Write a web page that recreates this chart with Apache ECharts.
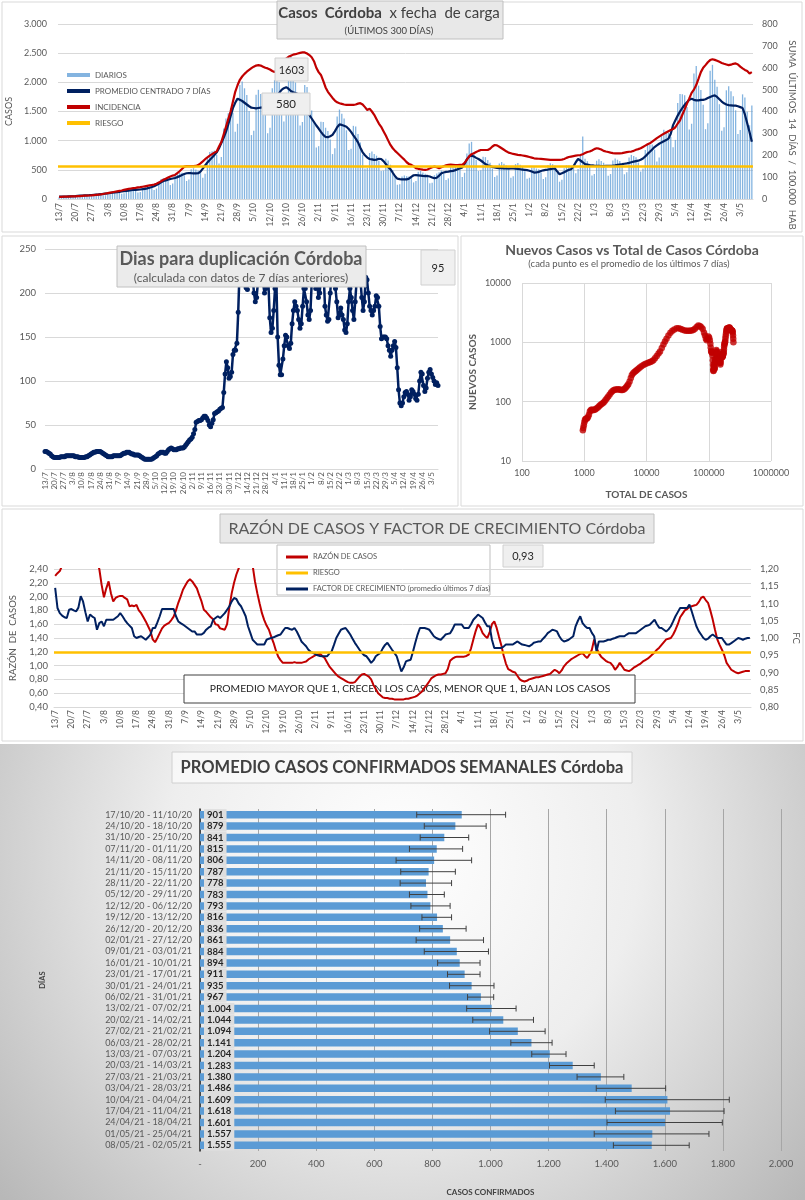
<!DOCTYPE html>
<html><head><meta charset="utf-8">
<script src="https://cdn.jsdelivr.net/npm/echarts@6/dist/echarts.min.js"></script>
<style>html,body{margin:0;padding:0;background:#fff}#c{width:805px;height:1200px}</style>
</head><body><div id="c"></div>
<script>
// ---------- DATA ----------
const startDate = [2020, 6, 13];
const nDays = 300;
const dates = [];
for (let i = 0; i < nDays; i++) { const t = new Date(Date.UTC(startDate[0], startDate[1], startDate[2] + i)); dates.push(t.getUTCDate() + '/' + (t.getUTCMonth() + 1)); }

const diarios = [
30,47,50,49,48,43,33, 38,62,68,69,68,61,46, 52,83,90,90,90,83,64, 73,118,130,130,130,117,90,
100,161,174,173,169,149,112, 122,193,209,209,211,195,154, 180,301,342,354,352,315,239,
264,414,450,451,451,407,309, 334,508,528,504,485,447,364, 431,721,804,817,830,760,609,
720,1208,1380,1472,1562,1479,1155, 1290,1955,2016,1898,1782,1510,1096, 1170,1788,1872,1800,1727,1510,1127,
1223,1898,2040,2250,2002,1777,1330, 1438,2350,2470,2105,1997,1710,1260, 1320,1955,1920,1656,1518,1311,882,
906,1323,1320,1222,1166,1021,770, 870,1415,1534,1461,1381,1178,840, 863,1254,1241,1116,968,760,525,
533,789,816,771,743,656,480, 488,690,660,588,495,371,244, 255,385,403,388,385,361,285,
308,466,480,454,431,375,270, 278,408,438,460,486,432,326, 353,550,578,569,561,499,378,
450,782,950,980,803,670,480, 495,725,718,667,622,523,378, 401,610,634,604,575,496,366,
392,598,618,587,556,475,347, 364,541,544,523,512,456,344, 375,581,614,596,575,447,297,
330,529,576,575,562,532,441, 515,759,1070,688,649,553,403, 429,656,682,651,622,539,398,
428,658,694,673,651,568,424, 459,713,756,736,715,624,470, 521,840,928,932,935,846,644,
710,1116,1188,1162,1137,1064,886, 1013,1645,1800,1794,1777,1577,1190, 1290,2150,2280,1944,1870,1615,1197,
1298,2200,2300,2044,1925,1625,1169, 1230,1863,1932,1846,1760,1520,1113, 1181,1794,1740,1495,1265,1603];

const promedio7 = [
40,41,42,43,44,45,47,50,54,57, 60,62,64,66,69,72,75,78,82,87, 92,97,103,108,113,118,123,128,134,140,
145,150,154,157,160,163,168,174,182,192, 205,220,240,262,285,308,320,332,342,352,
360,375,392,410,428,441,445,442,440,438, 441,470,520,575,627,670,710,755,800,870,
960,1050,1150,1280,1420,1557,1650,1720,1700,1680, 1650,1620,1590,1565,1560,1555,1560,1565,1570,1590,
1610,1630,1650,1700,1760,1820,1870,1900,1917,1890, 1850,1830,1815,1800,1800,1760,1700,1600,1440,1380,
1320,1260,1208,1150,1100,1063,1060,1075,1100,1160, 1230,1278,1270,1255,1240,1200,1150,1090,1034,970,
880,800,750,710,686,680,670,675,690,686, 650,600,550,511,450,390,349,340,335,336,
337,350,380,407,410,405,400,395,392,395, 385,370,355,365,400,442,455,465,470,478,
482,495,510,525,540,600,680,730,744,730, 705,686,660,630,598,580,565,550,540,535,
530,528,525,523,522,523,523,520,515,510, 505,500,495,485,470,453,455,465,480,492,
500,505,512,518,523,470,424,440,460,480, 500,511,560,630,686,660,630,598,590,582,
575,572,570,568,566,565,567,569,570,572, 578,585,592,598,605,612,620,630,640,650,
657,672,695,730,773,810,850,890,920,947, 970,990,1010,1034,1120,1266,1350,1430,1500,1560,
1615,1660,1700,1720,1700,1690,1690,1700,1700,1710, 1730,1750,1765,1777,1750,1710,1670,1640,1620,1610,
1605,1600,1600,1590,1575,1560,1450,1300,1150,980];

const incidencia = [
10,10,11,11,11,12,12,12,13,13, 14,15,15,16,17,18,19,20,21,23, 25,27,29,31,33,35,37,39,42,44,
46,48,50,51,53,54,56,58,60,62, 64,66,70,75,81,88,93,98,103,107, 110,118,127,137,148,150,150,150,150,151,
155,163,172,182,190,198,205,212,217,240, 260,295,330,365,400,445,490,520,545,560,
572,582,590,598,605,610,612,610,605,600, 597,592,585,580,590,605,620,632,642,650,
655,660,662,665,668,670,670,665,658,648, 630,600,580,567,540,510,490,476,462,450,
442,438,435,432,430,430,430,430,432,436, 438,432,420,407,413,400,385,365,345,330,
310,290,268,247,232,220,210,200,190,180, 168,160,156,150,141,138,136,134,133,135,
140,145,148,145,141,145,150,154,156,157, 156,155,155,156,156,165,180,195,205,209,
215,220,224,224,224,224,230,240,247,245, 239,232,225,218,212,209,206,204,202,201,
199,197,195,192,189,186,185,184,183,182, 181,180,179,179,179,179,179,180,183,188,
192,194,196,198,200,201,205,210,215,217, 222,228,232,230,226,220,217,215,212,210,
209,209,209,210,212,214,216,217,220,225, 228,232,238,244,250,255,262,270,278,285,
292,298,304,310,315,320,328,345,360,385, 410,436,460,485,500,521,550,580,600,612,
625,635,639,636,632,627,622,618,615,612, 614,618,620,615,605,597,590,585,574,580];
const riesgoIncidencia = 150;

const diasDuplicacion = [
20,20,19,18,17,15,14,13,13,13, 13,13,14,14,14,14,15,15,15,15, 15,15,15,14,14,14,13,13,13,13,
13,14,14,15,16,17,18,19,19,20, 20,20,20,19,18,17,16,15,14,14, 14,14,15,15,15,15,15,15,16,17,
18,18,19,19,19,18,17,17,16,16, 16,16,15,14,13,12,11,11,11,11, 11,11,12,13,14,15,17,18,19,19,
19,18,18,20,22,23,24,23,22,22, 22,23,23,24,24,24,25,27,29,31, 33,34,36,40,45,53,54,55,55,56,
58,60,60,58,55,50,48,52,56,63, 64,65,66,68,69,70,87,108,122,115, 103,105,110,130,135,135,143,178,225,240,
230,222,215,206,204,210,225,232,218,200, 190,195,212,228,235,220,210,200,205,226,
210,172,155,160,180,205,215,150,118,107, 107,125,140,152,150,140,137,143,165,180,
190,185,180,170,160,165,185,205,205,190, 175,170,180,215,228,235,205,215,195,200,
218,230,222,185,175,168,170,200,222,235, 228,205,190,172,175,183,175,170,158,155,
165,190,205,195,180,170,190,212,225,228, 214,195,180,190,218,215,200,185,180,175,
180,185,197,195,185,162,148,150,150,150, 148,140,135,128,135,140,145,138,115,90,
75,72,75,82,87,88,85,78,82,90, 88,85,80,78,85,100,110,108,95,88, 92,103,110,113,108,104,100,96,98,95];

// [total de casos, nuevos casos (promedio 7 días)]
const nuevosVsTotal = [
[950,33],[965,36],[985,40],[1005,45],[1025,49],[1050,51],[1080,52],[1110,52],[1150,55],[1190,60],[1230,68],[1270,72],[1320,74],[1380,72],[1440,73],[1500,74],[1570,77],[1650,80],[1730,84],[1810,88],[1900,91],[2000,95],[2100,100],[2200,107],[2310,114],[2430,122],[2560,132],[2700,143],[2850,152],[3000,157],[3170,160],[3350,161],[3530,162],[3720,160],[3900,158],[4100,157],[4300,160],[4500,166],[4700,175],[4900,185],[5100,196],[5350,218],[5600,250],[5820,282],[6100,300],[6400,316],[6700,330],[7000,342],[7400,358],[7800,375],[8300,395],[8900,415],[9500,430],[10200,445],[10900,458],[11500,465],[12200,478],[12900,500],[13700,540],[14600,590],[15600,650],[16500,700],[17600,800],[18700,920],[19800,1030],[21000,1150],[22500,1300],[24200,1450],[26000,1560],[28000,1650],[30500,1720],[33000,1720],[35500,1680],[38000,1630],[41000,1590],[44000,1560],[47000,1560],[50000,1570],[53000,1590],[56500,1620],[60000,1700],[64000,1820],[68000,1930],[72000,1880],[76000,1800],[80000,1680],[84000,1450],[87000,1300],[90000,1150],[93000,1080],[96000,1150],[99000,1250],[101500,1200],[104000,1080],[106000,950],[107500,820],[109000,720],[110500,690],[112000,680],[113500,670],[115000,600],[116200,500],[117200,420],[118000,350],[118800,330],[119600,335],[120400,370],[121300,405],[122200,400],[123100,395],[124000,360],[124800,370],[125700,440],[126600,470],[127600,485],[128600,510],[129700,540],[131000,640],[132400,740],[133600,710],[134700,680],[135800,630],[136900,590],[138000,560],[139200,540],[140500,530],[141800,525],[143200,522],[144500,515],[145800,500],[147000,470],[147900,455],[148900,480],[149900,500],[151000,515],[152100,523],[153000,450],[153600,425],[154500,460],[155500,505],[156500,590],[157600,680],[158800,630],[159900,598],[161100,580],[162300,570],[163400,567],[164600,568],[165800,571],[167000,582],[168300,598],[169700,615],[171100,635],[172500,655],[173900,690],[175300,760],[176700,850],[178300,920],[180000,960],[181800,1000],[183600,1034],[185300,1150],[187100,1266],[189000,1400],[191000,1520],[193200,1615],[195400,1690],[197800,1720],[200200,1700],[202600,1690],[205000,1700],[207400,1710],[209800,1740],[212300,1770],[214800,1777],[217300,1740],[219800,1690],[222200,1640],[224600,1620],[227000,1610],[229300,1600],[231700,1600],[234000,1590],[236300,1575],[238600,1560],[240600,1530],[243000,1450],[245500,1300],[247300,1150],[248800,1000]];

const razonCasos = [
2.30,2.34,2.37,2.45,2.6,2.7,2.8,2.9,3.0,3.0, 3.0,2.9,2.9,2.8,2.8,2.7,2.6,2.55,2.5,2.40,
2.17,1.99,2.12,2.22,2.05,1.93,1.98,2.00,2.01,2.01, 1.98,1.96,1.86,1.87,1.86,1.88,1.80,1.76,1.70,1.64,
1.57,1.50,1.38,1.34,1.40,1.47,1.54,1.58,1.60,1.62, 1.66,1.71,1.80,1.91,2.00,2.10,2.16,2.22,2.25,2.22,
2.17,2.12,2.02,1.93,1.81,1.78,1.74,1.70,1.67,1.60, 1.59,1.54,1.53,1.52,1.60,1.85,2.05,2.20,2.32,2.41,
2.5,2.6,2.7,2.7,2.6,2.45,2.22,2.05,1.90,1.76, 1.66,1.58,1.52,1.42,1.33,1.22,1.13,1.08,1.04,1.04,
1.04,1.04,1.04,1.05,1.04,1.04,1.04,1.05,1.06,1.09, 1.11,1.13,1.15,1.16,1.17,1.14,1.11,1.05,0.99,0.95,
0.91,0.87,0.84,0.82,0.80,0.78,0.76,0.75,0.75,0.76, 0.80,0.84,0.87,0.88,0.86,0.84,0.80,0.72,0.66,0.60,
0.57,0.54,0.53,0.53,0.52,0.52,0.51,0.51,0.51,0.51, 0.51,0.52,0.52,0.53,0.54,0.55,0.57,0.60,0.63,0.68,
0.72,0.77,0.82,0.84,0.86,0.87,0.87,0.88,0.89,0.95, 1.07,1.10,1.12,1.13,1.13,1.13,1.13,1.14,1.16,1.25,
1.38,1.50,1.60,1.55,1.47,1.43,1.40,1.48,1.60,1.64, 1.55,1.42,1.30,1.15,1.03,0.95,0.93,0.91,0.90,0.85,
0.80,0.78,0.77,0.78,0.80,0.81,0.82,0.83,0.83,0.84, 0.85,0.86,0.87,0.88,0.91,0.94,0.92,0.89,0.93,0.99,
1.03,1.06,1.09,1.11,1.13,1.15,1.17,1.18,1.14,1.11, 1.16,1.23,1.38,1.26,1.18,1.13,1.10,1.07,1.05,1.04,
1.00,0.94,0.98,1.04,0.99,0.94,0.93,0.92,0.94,0.97, 0.99,1.01,1.03,1.06,1.08,1.10,1.13,1.16,1.19,1.23,
1.26,1.30,1.34,1.38,1.39,1.40,1.45,1.52,1.60,1.70, 1.75,1.80,1.82,1.85,1.86,1.87,1.88,1.92,1.98,2.00,
1.95,1.91,1.80,1.67,1.52,1.38,1.30,1.23,1.15,1.04, 0.99,0.94,0.92,0.90,0.89,0.90,0.91,0.92,0.92,0.92];
const riesgoRazon = 1.2;

const factorCrecimiento = [
1.145,1.087,1.072,1.065,1.060,1.058,1.082,1.084,1.080,1.077, 1.088,1.121,1.106,1.075,1.048,1.068,1.062,1.058,1.024,1.043,
1.048,1.034,1.053,1.053,1.053,1.053,1.058,1.063,1.072,1.063, 1.052,1.043,1.036,1.029,1.005,1.000,1.003,1.005,1.000,0.995,
1.002,1.010,1.029,1.029,1.045,1.063,1.084,1.084,1.084,1.084, 1.084,1.084,1.063,1.048,1.043,1.039,1.034,1.029,1.024,1.019,
1.019,1.010,1.010,1.010,1.015,1.024,1.030,1.034,1.053,1.058, 1.063,1.058,1.065,1.072,1.082,1.092,1.106,1.116,1.113,1.100,
1.092,1.078,1.063,1.034,1.015,0.995,0.988,0.981,0.981,0.981, 0.981,0.995,0.998,1.000,1.002,1.005,1.008,1.010,1.020,1.029,
1.029,1.026,1.024,1.029,1.019,1.005,0.990,0.983,0.976,0.966, 0.960,0.957,0.953,0.950,0.948,0.947,0.947,0.947,0.955,0.961,
0.980,1.000,1.012,1.024,1.027,1.029,1.020,1.010,0.998,0.986, 0.976,0.966,0.957,0.950,0.947,0.938,0.928,0.935,0.947,0.952,
0.957,0.970,0.980,0.986,0.976,0.966,0.957,0.947,0.925,0.903, 0.915,0.932,0.935,0.937,0.960,0.986,1.010,1.029,1.029,1.029,
1.027,1.024,1.015,1.005,1.000,0.997,0.995,1.002,1.010,1.012, 1.014,1.025,1.039,1.039,1.039,1.039,1.029,1.029,1.029,1.040,
1.053,1.060,1.068,1.063,1.058,1.045,1.034,1.034,0.995,0.971, 0.971,0.971,0.971,0.975,0.981,0.981,0.981,0.981,0.986,0.990,
0.985,0.981,0.980,0.978,0.976,0.980,0.986,0.988,0.990,0.990, 0.998,1.005,1.014,1.019,1.024,1.022,1.019,1.005,0.995,0.990,
0.992,0.995,1.000,1.005,1.034,1.050,1.063,1.043,1.035,1.029, 1.029,1.015,1.005,0.961,0.990,0.990,0.990,0.992,0.995,0.995,
0.998,1.000,1.003,1.005,1.005,1.005,1.010,1.014,1.014,1.014, 1.014,1.019,1.024,1.029,1.034,1.036,1.039,1.046,1.053,1.040,
1.030,1.029,1.024,1.019,1.025,1.034,1.048,1.063,1.075,1.087, 1.087,1.087,1.087,1.097,1.077,1.055,1.034,1.020,1.010,1.000,
0.995,0.998,1.005,1.010,1.005,1.000,1.000,1.000,0.990,0.981, 0.981,0.985,0.990,0.995,1.000,0.998,0.995,0.998,1.000,1.000];

const semanas = ['17/10/20 - 11/10/20','24/10/20 - 18/10/20','31/10/20 - 25/10/20','07/11/20 - 01/11/20','14/11/20 - 08/11/20','21/11/20 - 15/11/20','28/11/20 - 22/11/20','05/12/20 - 29/11/20','12/12/20 - 06/12/20','19/12/20 - 13/12/20','26/12/20 - 20/12/20','02/01/21 - 27/12/20','09/01/21 - 03/01/21','16/01/21 - 10/01/21','23/01/21 - 17/01/21','30/01/21 - 24/01/21','06/02/21 - 31/01/21','13/02/21 - 07/02/21','20/02/21 - 14/02/21','27/02/21 - 21/02/21','06/03/21 - 28/02/21','13/03/21 - 07/03/21','20/03/21 - 14/03/21','27/03/21 - 21/03/21','03/04/21 - 28/03/21','10/04/21 - 04/04/21','17/04/21 - 11/04/21','24/04/21 - 18/04/21','01/05/21 - 25/04/21','08/05/21 - 02/05/21'];
const promedioSemanal = [901,879,841,815,806,787,778,783,793,816,836,861,884,894,911,935,967,1004,1044,1094,1141,1204,1283,1380,1486,1609,1618,1601,1557,1555];
const errorMin = [746,772,758,721,675,691,689,721,726,764,756,744,772,818,852,859,921,918,939,997,1070,1142,1203,1298,1364,1395,1430,1401,1357,1423];
const errorMax = [1052,985,925,904,935,879,866,841,861,866,916,976,993,964,964,1012,1011,1088,1148,1188,1212,1260,1357,1459,1603,1822,1804,1798,1752,1684];

const ultimoDiario = '1603', ultimaIncidencia = '580', ultimoDuplicacion = '95', ultimoFC = '0,93';

// ---------- CHART ----------
const F = 'Lato, "Open Sans", sans-serif';
const G = '#595959';
const NAVY = '#002060', RED = '#C00000', ORANGE = '#FFC000', BLUE = '#5B9BD5';
function thou(v){ return String(Math.round(v)).replace(/\B(?=(\d{3})+(?!\d))/g, '.'); }
function c2(v){ return v.toFixed(2).replace('.', ','); }

function dateAxis(grid, gap, fs, margin){
  return {type:'category', gridIndex:grid, data:dates, boundaryGap:gap,
    axisTick:{show:false}, axisLine:{show:true, lineStyle:{color:'#d9d9d9'}},
    axisLabel:{interval:6, rotate:90, fontSize:fs, color:G, fontFamily:F, margin:margin},
    splitLine:{show:false}};
}
function rect(x,y,w,h,fill,stroke,z,lw){ return {type:'rect', silent:true, z:z, shape:{x:x,y:y,width:w,height:h}, style:{fill:fill, stroke:stroke, lineWidth:lw||1}}; }
function txt(x,y,t,fs,fw,col,z,align){ return {type:'text', silent:true, z:z, x:x, y:y, style:{text:t, fontSize:fs, fontWeight:fw||'normal', fontFamily:F, fill:col, textAlign:align||'center', textVerticalAlign:'middle', verticalAlign:'middle'}}; }

const chart = echarts.init(document.getElementById('c'), null, {renderer:'canvas'});
const option = {
  animation:false,
  backgroundColor:'#ffffff',
  textStyle:{fontFamily:F},
  grid:[
    {left:58, right:52, top:24, bottom:1001, outerBoundsMode:'none'},
    {left:45, right:367, top:249, bottom:731, outerBoundsMode:'none'},
    {left:522, right:34, top:283, bottom:739, outerBoundsMode:'none'},
    {left:54, right:54, top:569, bottom:493, outerBoundsMode:'none'},
    {left:200, right:24, top:809, bottom:49, outerBoundsMode:'none'}
  ],
  xAxis:[
    dateAxis(0, true, 8.5, 4),
    dateAxis(1, false, 8, 3),
    {type:'log', logBase:10, gridIndex:2, min:100, max:1000000,
      axisLine:{show:false}, axisTick:{show:false}, splitLine:{show:true, lineStyle:{color:'#d9d9d9'}},
      axisLabel:{formatter:v=>String(Math.round(v)), fontSize:9, color:G, fontFamily:F, margin:8},
      name:'TOTAL DE CASOS', nameLocation:'middle', nameGap:29,
      nameTextStyle:{fontSize:10, fontWeight:'bold', color:G, fontFamily:F}},
    dateAxis(3, true, 8.5, 3),
    {type:'value', gridIndex:4, min:0, max:2000, interval:200,
      axisLine:{show:false}, axisTick:{show:false}, splitLine:{show:true, lineStyle:{color:'#a6a6a6'}},
      axisLabel:{formatter:v=>v===0?'-':thou(v), fontSize:9.5, color:G, fontFamily:F, margin:8},
      name:'CASOS CONFIRMADOS', nameLocation:'middle', nameGap:37,
      nameTextStyle:{fontSize:8, fontWeight:'bold', color:'#404040', fontFamily:F}}
  ],
  yAxis:[
    {type:'value', gridIndex:0, min:0, max:3000, interval:500, position:'left',
      axisLine:{show:false}, axisTick:{show:false}, splitLine:{lineStyle:{color:'#d9d9d9'}},
      axisLabel:{formatter:thou, fontSize:9, color:G, fontFamily:F, margin:11},
      name:'CASOS', nameLocation:'middle', nameGap:41, nameRotate:90,
      nameTextStyle:{fontSize:9, color:G, fontFamily:F}},
    {type:'value', gridIndex:0, min:0, max:800, interval:100, position:'right',
      axisLine:{show:false}, axisTick:{show:false}, splitLine:{show:false},
      axisLabel:{fontSize:9, color:G, fontFamily:F, margin:9}},
    {type:'value', gridIndex:1, min:0, max:250, interval:50,
      axisLine:{show:false}, axisTick:{show:false}, splitLine:{lineStyle:{color:'#d9d9d9'}},
      axisLabel:{fontSize:9.5, color:G, fontFamily:F, margin:9}},
    {type:'log', logBase:10, gridIndex:2, min:10, max:10000,
      axisLine:{show:false}, axisTick:{show:false}, splitLine:{show:true, lineStyle:{color:'#d9d9d9'}},
      axisLabel:{formatter:v=>String(Math.round(v)), fontSize:9, color:G, fontFamily:F, margin:11},
      name:'NUEVOS CASOS', nameLocation:'middle', nameGap:44, nameRotate:90,
      nameTextStyle:{fontSize:10, fontWeight:'bold', color:G, fontFamily:F}},
    {type:'value', gridIndex:3, min:0.4, max:2.4, interval:0.2, position:'left',
      axisLine:{show:false}, axisTick:{show:false}, splitLine:{lineStyle:{color:'#d9d9d9'}},
      axisLabel:{formatter:c2, fontSize:9.5, color:G, fontFamily:F, margin:6},
      name:'RAZÓN  DE  CASOS', nameLocation:'middle', nameGap:36, nameRotate:90,
      nameTextStyle:{fontSize:9.5, color:G, fontFamily:F}},
    {type:'value', gridIndex:3, min:0.8, max:1.2, interval:0.05, position:'right',
      axisLine:{show:false}, axisTick:{show:false}, splitLine:{show:false},
      axisLabel:{formatter:c2, fontSize:9.5, color:G, fontFamily:F, margin:9},
      name:'FC', nameLocation:'middle', nameGap:40, nameRotate:-90,
      nameTextStyle:{fontSize:9.5, color:G, fontFamily:F}},
    {type:'category', gridIndex:4, data:semanas, inverse:true,
      axisLine:{show:true, lineStyle:{color:'#262626', width:1.5}}, axisTick:{show:false},
      axisLabel:{interval:0, fontSize:9, color:G, fontFamily:F, margin:8},
      name:'DÍAS', nameLocation:'middle', nameGap:153, nameRotate:90,
      nameTextStyle:{fontSize:7.5, fontWeight:'bold', color:'#404040', fontFamily:F}}
  ],
  legend:[
    {left:62, top:66, orient:'vertical', itemGap:8, itemWidth:23, itemHeight:4, selectedMode:false,
      textStyle:{fontSize:8, color:G, fontFamily:F},
      data:[{name:'DIARIOS',icon:'rect'},{name:'PROMEDIO CENTRADO 7 DÍAS',icon:'rect'},{name:'INCIDENCIA',icon:'rect'},{name:'RIESGO',icon:'rect'}]},
    {left:281, top:548, orient:'vertical', itemGap:8, itemWidth:22, itemHeight:3, selectedMode:false,
      textStyle:{fontSize:7.5, color:G, fontFamily:F},
      data:[{name:'RAZÓN DE CASOS',icon:'rect'},{name:'RIESGO ',icon:'rect'},{name:'FACTOR DE CRECIMIENTO (promedio últimos 7 días)',icon:'rect'}]}
  ],
  series:[
    {name:'DIARIOS', type:'bar', xAxisIndex:0, yAxisIndex:0, data:diarios, barWidth:1.3,
      itemStyle:{color:BLUE, opacity:0.75}, z:1},
    {name:'PROMEDIO CENTRADO 7 DÍAS', type:'line', xAxisIndex:0, yAxisIndex:0, data:promedio7, symbol:'none',
      lineStyle:{color:NAVY, width:2.2}, itemStyle:{color:NAVY}, z:3},
    {name:'INCIDENCIA', type:'line', xAxisIndex:0, yAxisIndex:1, data:incidencia, symbol:'none',
      lineStyle:{color:RED, width:2.2}, itemStyle:{color:RED}, z:3},
    {name:'RIESGO', type:'line', xAxisIndex:0, yAxisIndex:1, data:[], symbol:'none', itemStyle:{color:ORANGE}, lineStyle:{color:ORANGE},
      markLine:{silent:true, symbol:'none', label:{show:false}, lineStyle:{color:ORANGE, width:2.5, type:'solid'}, data:[{yAxis:riesgoIncidencia}]}, z:4},

    {name:'Dias para duplicación', type:'line', xAxisIndex:1, yAxisIndex:2, data:diasDuplicacion,
      symbol:'circle', symbolSize:5, showAllSymbol:true, lineStyle:{color:NAVY, width:2.5}, itemStyle:{color:NAVY}, z:3},

    {name:'Nuevos vs Total', type:'scatter', xAxisIndex:2, yAxisIndex:3, data:nuevosVsTotal,
      symbolSize:6.5, itemStyle:{color:RED}, z:3},

    {name:'RAZÓN DE CASOS', type:'line', xAxisIndex:3, yAxisIndex:4, data:razonCasos, symbol:'none',
      lineStyle:{color:RED, width:2}, itemStyle:{color:RED}, z:4},
    {name:'RIESGO ', type:'line', xAxisIndex:3, yAxisIndex:4, data:[], symbol:'none', itemStyle:{color:ORANGE}, lineStyle:{color:ORANGE},
      markLine:{silent:true, symbol:'none', label:{show:false}, lineStyle:{color:ORANGE, width:2.5, type:'solid'}, data:[{yAxis:riesgoRazon}]}, z:3},
    {name:'FACTOR DE CRECIMIENTO (promedio últimos 7 días)', type:'line', xAxisIndex:3, yAxisIndex:5, data:factorCrecimiento, symbol:'none',
      lineStyle:{color:NAVY, width:2}, itemStyle:{color:NAVY}, z:4},

    {name:'Promedio semanal', type:'bar', xAxisIndex:4, yAxisIndex:6, data:promedioSemanal, barWidth:7.5,
      itemStyle:{color:BLUE}, z:2,
      label:{show:true, position:'insideLeft', distance:4, formatter:p=>thou(p.value), fontSize:9.5, fontWeight:'bold',
        color:'#262626', fontFamily:F, backgroundColor:'#dedede', padding:[1,3,0,3]}},
    {name:'Error', type:'custom', xAxisIndex:4, yAxisIndex:6, z:3,
      data:errorMin.map((lo,i)=>[lo, errorMax[i], i]), encode:{x:[0,1], y:2},
      renderItem:function(params, api){
        const a = api.coord([api.value(0), api.value(2)]);
        const b = api.coord([api.value(1), api.value(2)]);
        const s = {stroke:'#404040', lineWidth:1};
        return {type:'group', children:[
          {type:'line', shape:{x1:a[0], y1:a[1], x2:b[0], y2:b[1]}, style:s},
          {type:'line', shape:{x1:a[0], y1:a[1]-3, x2:a[0], y2:a[1]+3}, style:s},
          {type:'line', shape:{x1:b[0], y1:b[1]-3, x2:b[0], y2:b[1]+3}, style:s}
        ]};
      }}
  ],
  graphic:[
    // panel frames
    rect(2,2,800,230,'none','#d9d9d9',-1),
    rect(2,236,456,270,'none','#d9d9d9',-1),
    rect(461,236,342,270,'none','#d9d9d9',-1),
    rect(2,509,801,232,'none','#d9d9d9',-1),
    {type:'rect', silent:true, z:-2, shape:{x:0,y:744,width:805,height:456},
      style:{fill:{type:'radial', x:0.5, y:0.25, r:1.15, colorStops:[{offset:0,color:'#ffffff'},{offset:0.45,color:'#eeeeee'},{offset:1,color:'#b8b8b8'}]}}},

    // top chart title
    rect(277,1,226,38,'#e8e8e8','#c0c0c0',10),
    {type:'text', silent:true, z:11, x:389, y:13, style:{text:'{b|Casos  Córdoba}{n|  x fecha  de carga}', textAlign:'center', textVerticalAlign:'middle', verticalAlign:'middle',
      rich:{b:{fontSize:15, fontWeight:'bold', fill:'#404040', color:'#404040', fontFamily:F}, n:{fontSize:15, fill:'#404040', color:'#404040', fontFamily:F}}}},
    txt(389,31,'(ÚLTIMOS 300 DÍAS)',9.5,'normal','#404040',11),
    rect(275,58,33,23,'#efefef','#d0d0d0',10),
    txt(291.5,70,ultimoDiario,11,'normal','#262626',11),
    rect(262,93,48,22,'#efefef','#d0d0d0',10),
    txt(286,104.5,ultimaIncidencia,11.5,'normal','#262626',11),
    {type:'text', silent:true, z:11, x:792, y:135, rotation:-Math.PI/2,
      style:{text:'SUMA  ÚLTIMOS  14  DÍAS  /  100.000  HAB', fontSize:9.5, fontFamily:F, fill:G, textAlign:'center', textVerticalAlign:'middle', verticalAlign:'middle'}},

    // doubling chart
    rect(117,246,249,41,'#ebebeb','#c0c0c0',10),
    txt(241,259,'Dias para duplicación Córdoba',18,'bold','#595959',11),
    txt(241,278,'(calculada con datos de 7 días anteriores)',12,'normal','#595959',11),
    rect(421,250,34,35,'#f0f0f0','#d0d0d0',10),
    txt(438,268,ultimoDuplicacion,11,'normal','#262626',11),

    // scatter
    txt(632,250,'Nuevos Casos vs Total de Casos Córdoba',14,'bold','#595959',11),
    txt(629,264,'(cada punto es el promedio de los últimos 7 días)',9.5,'normal','#595959',11),

    // razon chart
    rect(220,514,434,29,'#e8e8e8','#c0c0c0',10),
    txt(437,529,'RAZÓN DE CASOS Y FACTOR DE CRECIMIENTO Córdoba',16,'normal','#595959',11),
    rect(277,545,213,50,'#ffffff','#bfbfbf',0),
    rect(503,545,40,22,'#efefef','#d0d0d0',10),
    txt(523,556,ultimoFC,11,'normal','#262626',11),
    rect(184,675,451,28,'#ffffff','#404040',1),
    txt(410,689,'PROMEDIO MAYOR QUE 1, CRECEN LOS CASOS, MENOR QUE 1, BAJAN LOS CASOS',10.3,'normal','#262626',1),

    // weekly bars
    rect(172,752,460,31,'rgba(250,250,250,0.8)','#d0d0d0',10),
    txt(402,768,'PROMEDIO CASOS CONFIRMADOS SEMANALES Córdoba',16.5,'bold','#404040',11)
  ]
};
chart.setOption(option);
</script></body></html>
